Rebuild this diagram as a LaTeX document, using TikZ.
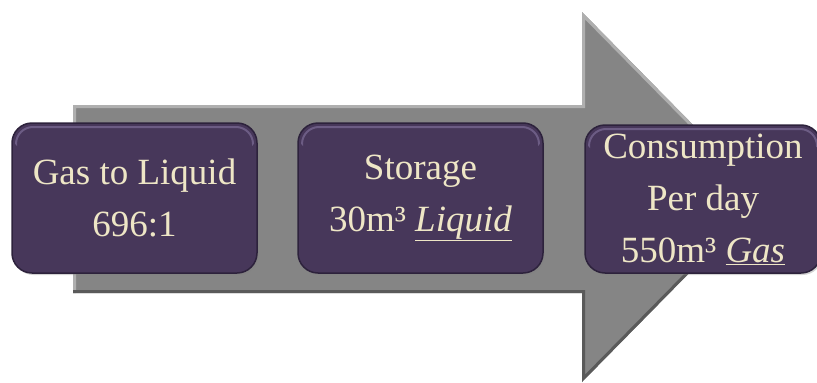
\documentclass[tikz,border=0pt]{standalone}
\usepackage{fontspec}
\setmainfont{Liberation Serif}
\usetikzlibrary{shadows}
\definecolor{boxfill}{RGB}{71,55,90}
\definecolor{boxedge}{RGB}{45,34,60}
\definecolor{boxlight}{RGB}{108,92,132}
\definecolor{boxtext}{RGB}{238,230,198}
\definecolor{arrowfill}{RGB}{133,133,133}
\definecolor{arrowlight}{RGB}{175,175,175}
\definecolor{arrowdark}{RGB}{90,90,90}
\tikzset{
  stagebox/.style={rounded corners=20pt, fill=boxfill, draw=boxedge, line width=1.5pt,
    text=boxtext, align=center, inner sep=0pt,
    font=\fontsize{37}{52}\selectfont,
    drop shadow={shadow xshift=1.5pt, shadow yshift=-2pt, opacity=0.35},
    path picture={
      \begin{scope}
        \clip (path picture bounding box.north west) rectangle
              ([yshift=-30pt]path picture bounding box.north east);
        \draw[boxlight, line width=2pt, rounded corners=17pt]
          ([xshift=4pt,yshift=-4pt]path picture bounding box.north west) rectangle
          ([xshift=-4pt,yshift=4pt]path picture bounding box.south east);
      \end{scope}
    }},
}
\begin{document}
\begin{tikzpicture}[x=1pt,y=-1pt]
\useasboundingbox (0,0) rectangle (817,383);
% big process arrow
\coordinate (bl) at (73,293);
\coordinate (tl) at (73,105);
\coordinate (tn) at (582,105);
\coordinate (ht) at (582,12);
\coordinate (tip) at (764,197);
\coordinate (hb) at (582,382);
\coordinate (bn) at (582,293);
\fill[arrowfill] (bl) -- (tl) -- (tn) -- (ht) -- (tip) -- (hb) -- (bn) -- cycle;
\begin{scope}
  \clip (bl) -- (tl) -- (tn) -- (ht) -- (tip) -- (hb) -- (bn) -- cycle;
  \draw[arrowlight, line width=6pt] (bl) -- (tl) -- (tn) -- (ht) -- (tip);
  \draw[arrowdark, line width=6pt] (tip) -- (hb) -- (bn) -- (bl);
\end{scope}
% stages
\node[stagebox, minimum width=245pt, minimum height=150pt] (gtl) at (134.5,198)
  {Gas to Liquid\\696:1};
\node[stagebox, minimum width=245pt, minimum height=150pt] (store) at (420.5,198)
  {Storage\\30m³ \underline{\textit{Liquid}}};
\node[stagebox, minimum width=236pt, minimum height=148pt] (use) at (703,199)
  {Consumption\\Per day\\550m³ \underline{\textit{Gas}}};
\end{tikzpicture}
\end{document}
